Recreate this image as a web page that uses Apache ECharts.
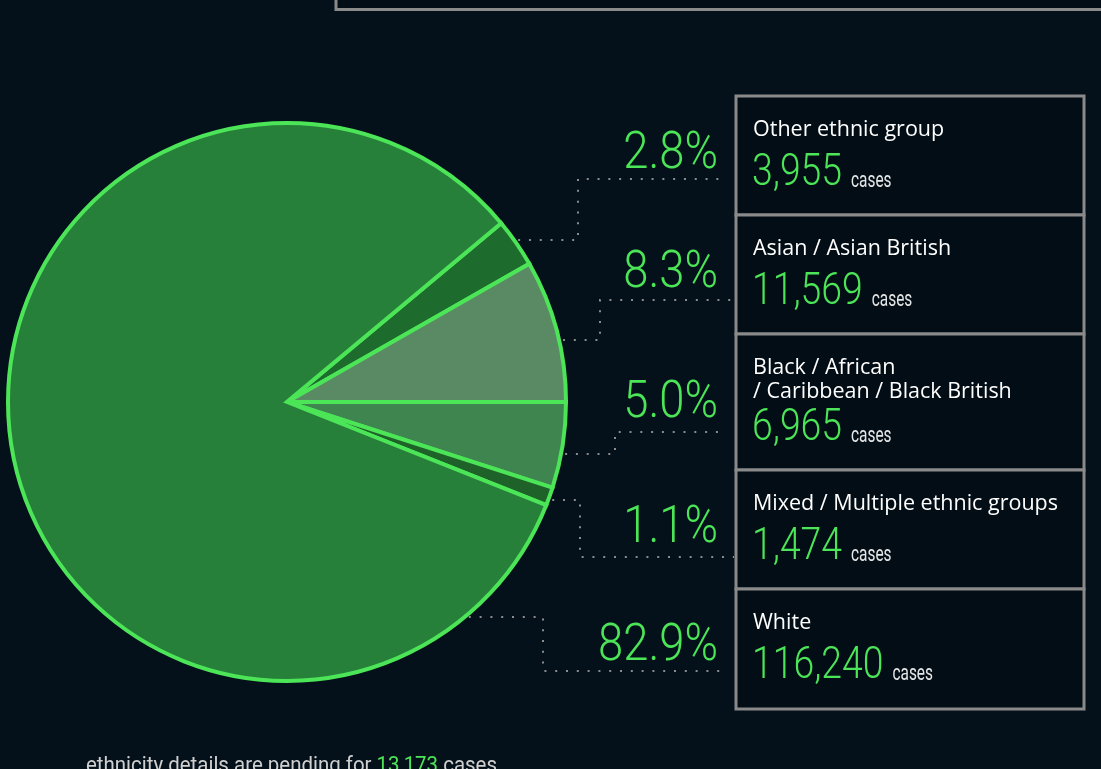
<!DOCTYPE html>
<html>
<head>
<meta charset="utf-8">
<script src="https://cdn.jsdelivr.net/npm/echarts@6/dist/echarts.min.js"></script>
<style>
  html, body { margin: 0; padding: 0; background: #04111b; }
  #chart { width: 1101px; height: 769px; }
</style>
</head>
<body>
<div id="chart"></div>
<script>
// data, top-to-bottom as in the legend boxes
const categories = [
  'Other ethnic group',
  'Asian / Asian British',
  'Black / African\n/ Caribbean / Black British',
  'Mixed / Multiple ethnic groups',
  'White'
];
const cases = [3955, 11569, 6965, 1474, 116240];
const pendingCases = 13173;
const sliceColors = ['#1d6b2d', '#5a8a64', '#3f8550', '#1e6229', '#26803a'];

// layout
const CX = 287, CY = 402, R = 279;
const BOX_X = 736, BOX_W = 348;
const boxTops = [96, 215, 334, 470, 589, 709];
const pctBase = [173, 292, 422, 547, 665];
const connectors = [
  { startY: 240, elbowX: 578, endY: 179, endX: 726 },
  { startY: 340, elbowX: 600, endY: 300, endX: 734 },
  { startY: 454, elbowX: 615, endY: 432, endX: 726 },
  { startY: 500, elbowX: 580, endY: 557, endX: 734 },
  { startY: 617, elbowX: 543, endY: 671, endX: 726 }
];

const GREEN = '#4be557';
const LIGHT = "Roboto, 'Noto Sans', sans-serif";
const SANS = "'Open Sans', 'Noto Sans', sans-serif";

const total = cases.reduce((a, b) => a + b, 0);
const fmt = (n) => n.toLocaleString('en-US');

const measure = document.createElement('canvas').getContext('2d');
function textWidth(str, size, family, weight) {
  measure.font = (weight || 'normal') + ' ' + size + 'px ' + family;
  return measure.measureText(str).width;
}
// text placed by its baseline, optionally squeezed horizontally
function txt(x, base, str, size, family, fill, opts) {
  opts = opts || {};
  return {
    type: 'text', x: x, y: base - 0.35 * size,
    scaleX: opts.sx || 1,
    style: {
      text: str, fontSize: size, fontFamily: family, fontWeight: opts.weight || 'normal',
      fill: fill, align: opts.align || 'left', verticalAlign: 'middle'
    }
  };
}

const graphics = [];

// box at the top edge, mostly cut off
graphics.push({
  type: 'rect', shape: { x: 336, y: -20, width: 800, height: 29.5 },
  style: { fill: '#020d16', stroke: '#8a8a8a', lineWidth: 3 }
});

// legend boxes
categories.forEach((name, i) => {
  const top = boxTops[i];
  graphics.push({
    type: 'rect', shape: { x: BOX_X, y: top, width: BOX_W, height: boxTops[i + 1] - top },
    style: { fill: '#020d16', stroke: '#8a8a8a', lineWidth: 3 }
  });
  const lines = name.split('\n');
  lines.forEach((line, k) => {
    graphics.push(txt(753, top + 41 + k * 24, line, 21.5, SANS, '#ffffff'));
  });
  const numBase = top + 93 + (lines.length - 1) * 17;
  const numStr = fmt(cases[i]);
  const nsx = 0.83;
  graphics.push(txt(752, numBase, numStr, 45, LIGHT, GREEN, { sx: nsx, weight: 300 }));
  const casesX = 752 + textWidth(numStr, 45, LIGHT, 300) * nsx + 9;
  graphics.push(txt(casesX, numBase, 'cases', 22, LIGHT, '#e6e6e6', { sx: 0.7 }));

  // share of all cases, right of the connector
  const pct = (cases[i] / total * 100).toFixed(1) + '%';
  graphics.push(txt(718, pctBase[i], pct, 51, LIGHT, GREEN, { sx: 0.89, weight: 300, align: 'right' }));
});

// dotted connectors from the pie edge to the boxes
connectors.forEach((c) => {
  const sx = CX + Math.sqrt(R * R - (c.startY - CY) * (c.startY - CY)) + 4;
  graphics.push({
    type: 'polyline',
    shape: { points: [[sx, c.startY], [c.elbowX, c.startY], [c.elbowX, c.endY], [c.endX, c.endY]] },
    style: { stroke: '#8c8c8c', lineWidth: 2, lineDash: [2, 8.8], fill: null }
  });
});

// footnote
const noteA = 'ethnicity details are pending for ';
const noteB = fmt(pendingCases);
const noteC = ' cases';
const fsx = 411 / textWidth(noteA + noteB + noteC, 22, LIGHT);
const wA = textWidth(noteA, 22, LIGHT) * fsx;
const wB = textWidth(noteB, 22, LIGHT) * fsx;
graphics.push(txt(86, 774, noteA, 22, LIGHT, '#cfcfcf', { sx: fsx }));
graphics.push(txt(86 + wA, 774, noteB, 22, LIGHT, GREEN, { sx: fsx }));
graphics.push(txt(86 + wA + wB, 774, noteC, 22, LIGHT, '#cfcfcf', { sx: fsx }));

const chart = echarts.init(document.getElementById('chart'));
const option = {
  backgroundColor: '#04111b',
  animation: false,
  graphic: { elements: graphics },
  series: [{
    type: 'pie',
    center: [CX, CY],
    radius: R,
    startAngle: (cases[0] + cases[1]) / total * 360,
    clockwise: true,
    avoidLabelOverlap: false,
    itemStyle: { borderColor: GREEN, borderWidth: 4, borderJoin: 'miter' },
    emphasis: { disabled: true },
    label: { show: false },
    labelLine: { show: false },
    data: categories.map((name, i) => ({
      name: name, value: cases[i], itemStyle: { color: sliceColors[i] }
    }))
  }]
};
chart.setOption(option);
</script>
</body>
</html>
